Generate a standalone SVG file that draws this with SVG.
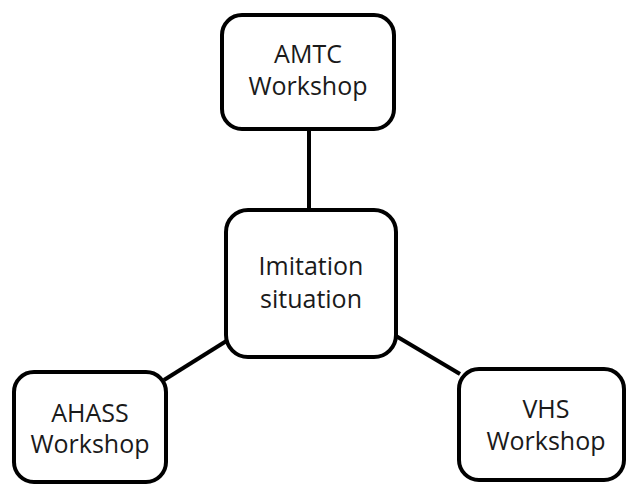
<svg xmlns="http://www.w3.org/2000/svg" width="626" height="484" viewBox="0 0 626 484">
<style>
.box{fill:#fff;stroke:#000;stroke-width:4}
.lbl{font-family:"Open Sans","Liberation Sans",sans-serif;font-size:25px;fill:#1a1a1a;text-anchor:middle}
.conn{stroke:#000;stroke-width:4;fill:none}
</style>
<rect width="626" height="484" fill="#fff"/>
<g id="connectors">
<line class="conn" x1="309" y1="128" x2="309" y2="210"/>
<line class="conn" x1="164" y1="380" x2="228" y2="340"/>
<line class="conn" x1="396" y1="336" x2="460" y2="374"/>
</g>
<g id="amtc">
<rect class="box" x="222" y="15" width="172" height="114" rx="20"/>
<text class="lbl" x="308" y="63">AMTC</text>
<text class="lbl" x="308" y="95">Workshop</text>
</g>
<g id="imitation">
<rect class="box" x="226" y="210" width="170" height="147" rx="22"/>
<text class="lbl" x="311" y="275">Imitation</text>
<text class="lbl" x="311" y="308">situation</text>
</g>
<g id="ahass">
<rect class="box" x="14" y="372" width="152" height="110" rx="20"/>
<text class="lbl" x="90" y="422">AHASS</text>
<text class="lbl" x="90" y="453">Workshop</text>
</g>
<g id="vhs">
<rect class="box" x="459" y="369" width="165" height="111" rx="20"/>
<text class="lbl" x="546" y="418">VHS</text>
<text class="lbl" x="546" y="450">Workshop</text>
</g>
</svg>
